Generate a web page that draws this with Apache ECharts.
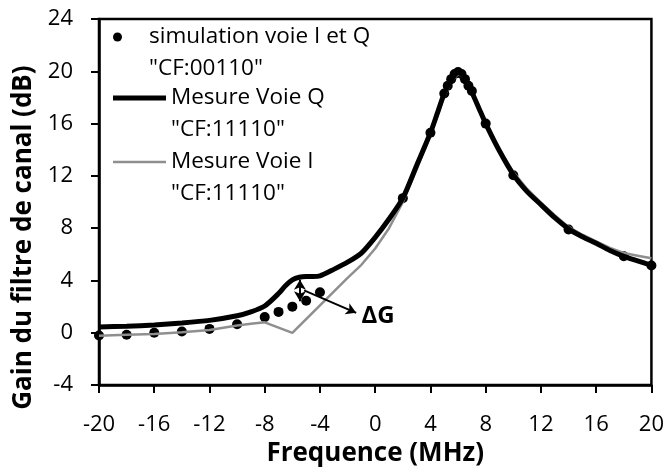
<!DOCTYPE html>
<html>
<head>
<meta charset="utf-8">
<script src="https://cdn.jsdelivr.net/npm/echarts@6/dist/echarts.min.js"></script>
<style>html,body{margin:0;padding:0;background:#fff}#c{width:667px;height:472px}</style>
</head>
<body>
<div id="c"></div>
<script>
// ---- data ----
var simX = [-20,-18,-16,-14,-12,-10,-8,-7,-6,-5,-4,2,4,5,5.25,5.5,5.75,6,6.25,6.5,6.75,7,8,10,14,18,20];
var simY = [-0.2,-0.15,0,0.1,0.3,0.65,1.2,1.6,2.0,2.45,3.1,10.3,15.3,18.3,18.9,19.4,19.8,19.95,19.8,19.4,18.9,18.5,16.0,12.05,7.9,5.85,5.15];

var qX = [-20,-18,-16,-14,-12,-10,-9,-8,-7,-6.5,-6,-5.5,-5,-4.5,-4,-3,-2,-1,0,1,2,3,4,4.5,5,5.5,6,6.5,7,7.5,8,9,10,11,12,13,14,15,16,17,18,19,20];
var qY = [0.45,0.5,0.6,0.75,0.95,1.3,1.6,2.05,3.0,3.6,4.05,4.25,4.3,4.3,4.35,4.85,5.4,6.1,7.3,8.7,10.3,12.8,15.3,16.8,18.3,19.3,19.9,19.5,18.4,17.2,16.0,13.9,12.1,10.8,9.8,8.8,7.95,7.35,6.85,6.3,5.85,5.5,5.15];

var iX = [-20,-18,-16,-14,-12,-10,-9,-8,-6,-5,-4,-3,-2,-1,0,1,2,3,4,4.5,5,5.5,6,6.5,7,7.5,8,9,10,11,12,13,14,15,16,17,18,19,20];
var iY = [-0.23,-0.15,-0.1,0.05,0.22,0.55,0.7,0.8,0.0,1.05,2.1,3.15,4.2,5.2,6.45,8.0,10.0,12.5,15.1,16.6,18.1,19.2,19.8,19.5,18.5,17.3,16.1,14.0,12.3,11.0,9.95,9.0,8.1,7.5,7.0,6.5,6.1,5.9,5.7];

var xTicks = [-20,-16,-12,-8,-4,0,4,8,12,16,20];
var yTicks = [-4,0,4,8,12,16,20,24];

var simName = 'simulation voie I et Q\n"CF:00110"';
var qName = 'Mesure Voie Q\n"CF:11110"';
var iName = 'Mesure Voie I\n"CF:11110"';
var xTitle = 'Frequence (MHz)';
var yTitle = 'Gain du filtre de canal (dB)';
var dgLabel = '\u0394G';

function zip(a, b) { return a.map(function (v, k) { return [v, b[k]]; }); }

var FONT = 'Open Sans';
var chart = echarts.init(document.getElementById('c'), null, {renderer: 'canvas'});

function legendFor(name, icon, h, top) {
  return {
    data: [{name: name, icon: icon}],
    left: 113, top: top, padding: 0,
    orient: 'vertical', selectedMode: false,
    itemWidth: 53, itemHeight: h,
    itemStyle: {opacity: 1},
    formatter: function (n) { return '\n' + n; },
    textStyle: {fontFamily: FONT, fontSize: 22.5, color: '#000', lineHeight: 32}
  };
}

chart.setOption({
  animation: false,
  backgroundColor: '#fff',
  grid: {left: 99, right: 13, top: 19, bottom: 82, show: true, borderColor: '#000', borderWidth: 2.5},
  legend: [
    legendFor(simName, 'circle', 9, -11),
    legendFor(qName, 'rect', 5, 50),
    legendFor(iName, 'rect', 2.5, 114)
  ],
  xAxis: {
    type: 'value', min: xTicks[0], max: xTicks[xTicks.length - 1], interval: 4,
    name: xTitle, nameLocation: 'middle', nameGap: 46,
    nameTextStyle: {fontFamily: FONT, fontSize: 26, fontWeight: 'bold', color: '#000'},
    axisLine: {show: true, onZero: false, lineStyle: {color: '#000', width: 2.5}},
    axisTick: {show: true, inside: false, length: 8, lineStyle: {color: '#000', width: 2}},
    axisLabel: {fontFamily: FONT, fontSize: 22, color: '#000', margin: 29},
    splitLine: {show: false}
  },
  yAxis: {
    type: 'value', min: yTicks[0], max: yTicks[yTicks.length - 1], interval: 4,
    name: yTitle, nameLocation: 'middle', nameGap: 53,
    nameTextStyle: {fontFamily: FONT, fontSize: 26, fontWeight: 'bold', color: '#000', padding: [0, 71, 0, 0]},
    axisLine: {show: true, onZero: false, lineStyle: {color: '#000', width: 2.5}},
    axisTick: {show: true, inside: false, length: 8, lineStyle: {color: '#000', width: 2}},
    axisLabel: {fontFamily: FONT, fontSize: 22, color: '#000', margin: 26},
    splitLine: {show: false}
  },
  series: [
    {
      name: iName, type: 'line', data: zip(iX, iY), symbol: 'none', showSymbol: false,
      smooth: false, lineStyle: {color: '#8f8f8f', width: 2.5}, itemStyle: {color: '#8f8f8f'}
    },
    {
      name: qName, type: 'line', data: zip(qX, qY), symbol: 'none', showSymbol: false,
      smooth: 0.25, lineStyle: {color: '#000', width: 5}, itemStyle: {color: '#000'},
      markLine: {
        silent: true, animation: false,
        symbol: ['arrow', 'arrow'], symbolSize: [9, 10],
        lineStyle: {color: '#000', width: 2, type: 'solid'},
        label: {show: false},
        data: [
          [{coord: [-5.45, 4.05]}, {coord: [-5.45, 2.42]}],
          [{coord: [-5.15, 3.25], symbol: 'none'}, {coord: [-1.38, 1.53]}]
        ]
      },
      markPoint: {
        silent: true, animation: false,
        data: [{
          coord: [0.2, 1.28], symbol: 'rect', symbolSize: 1, itemStyle: {color: 'rgba(0,0,0,0)'},
          label: {show: true, position: 'inside', formatter: dgLabel, fontFamily: FONT, fontSize: 24, fontWeight: 'bold', color: '#000'}
        }]
      }
    },
    {
      name: simName, type: 'scatter', data: zip(simX, simY), symbol: 'circle', symbolSize: 10,
      itemStyle: {color: '#000', opacity: 1}
    }
  ]
});
</script>
</body>
</html>
